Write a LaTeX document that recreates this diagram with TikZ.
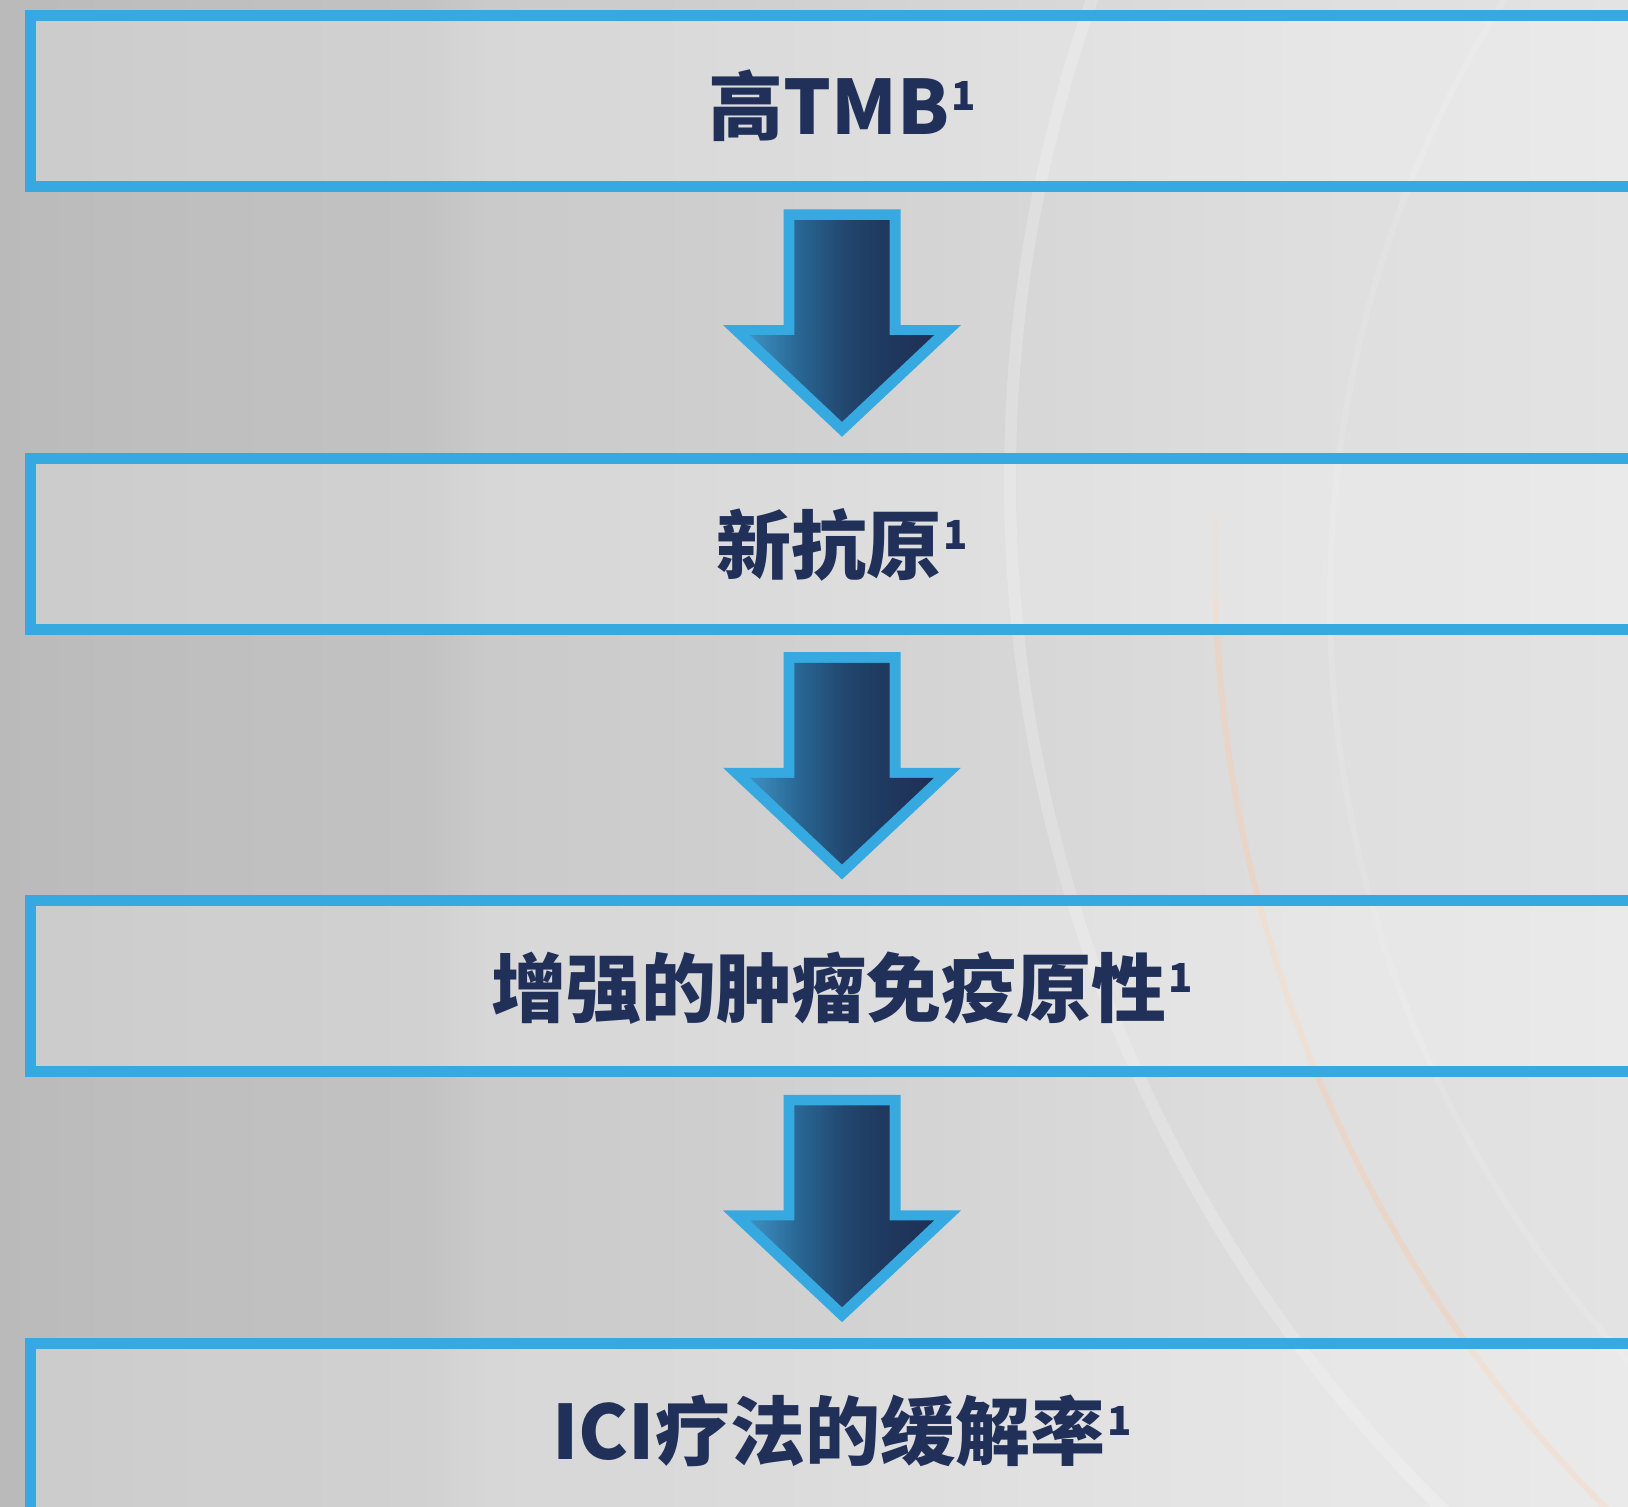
\documentclass[tikz,border=0pt]{standalone}
\usepackage{fontspec}
\setmainfont{Noto Sans CJK SC}
\usetikzlibrary{calc}
\definecolor{frameblue}{RGB}{54,169,224}
\definecolor{navy}{RGB}{32,48,89}
\definecolor{ga}{RGB}{61,144,194}
\definecolor{gb}{RGB}{40,101,146}
\definecolor{gc}{RGB}{34,70,110}
\definecolor{gd}{RGB}{31,58,96}
\definecolor{ge}{RGB}{31,47,85}
\definecolor{bga}{RGB}{186,186,186}
\definecolor{bgb}{RGB}{190,190,190}
\definecolor{bgc}{RGB}{194,194,194}
\definecolor{bgd}{RGB}{202,202,202}
\definecolor{bge}{RGB}{206,206,206}
\definecolor{bgf}{RGB}{214,214,214}
\definecolor{bgg}{RGB}{222,222,222}
\definecolor{bgh}{RGB}{227,227,227}
\definecolor{glow}{RGB}{248,205,175}
\pgfdeclarehorizontalshading{arrowshade}{100bp}{color(0bp)=(ga); color(25bp)=(ga); color(38.7bp)=(gb); color(51bp)=(gc); color(60.5bp)=(gd); color(75bp)=(ge); color(100bp)=(ge)}
\pgfdeclarehorizontalshading{bgshade}{100bp}{color(0bp)=(bga); color(25bp)=(bga); color(29.6bp)=(bgb); color(38bp)=(bgc); color(40bp)=(bgd); color(46.5bp)=(bge); color(55.7bp)=(bgf); color(64.9bp)=(bgg); color(75bp)=(bgh); color(100bp)=(bgh)}
\tikzset{
  stage/.style={draw=frameblue, line width=11pt, fill=white, fill opacity=0.25, text opacity=1,
    minimum width=1623pt, minimum height=171pt, inner sep=0pt, text=navy,
    font=\fontsize{75}{75}\selectfont\bfseries},
  label text/.style={text=navy, inner sep=0pt, font=\fontsize{75}{75}\selectfont\bfseries},
  blockarrow/.pic={
    \fill[frameblue] (-58.5,-113) -- (58.5,-113) -- (58.5,2.7) -- (119,2.7) -- (0,114.4) -- (-119,2.7) -- (-58.5,2.7) -- cycle;
    \shade[shading=arrowshade] (-47.7,-102.3) -- (47.7,-102.3) -- (47.7,12.7) -- (92,12.7) -- (0,99.4) -- (-92,12.7) -- (-47.7,12.7) -- cycle;
  }
}
\newcommand{\refmark}{\hspace{2pt}\raisebox{24pt}[0pt][0pt]{\fontsize{40}{40}\selectfont 1}}
\begin{document}
\begin{tikzpicture}[x=1pt,y=-1pt]
\useasboundingbox (0,0) rectangle (1628,1507);
\clip (0,0) rectangle (1628,1507);
\shade[shading=bgshade] (0,0) rectangle (1628,1507);
% faint background arcs
\draw[white, opacity=0.2, line width=12pt] (2450,480) circle[radius=1440];
\draw[white, opacity=0.12, line width=6pt] (2450,600) circle[radius=1120];
\begin{scope}
  \clip (1100,600) rectangle (1628,1507);
  \draw[glow, opacity=0.45, line width=6pt] (2560,560) circle[radius=1345];
\end{scope}
\begin{scope}
  \clip (1100,520) rectangle (1628,600);
  \draw[glow, opacity=0.2, line width=6pt] (2560,560) circle[radius=1345];
\end{scope}
% boxes
\node[stage] (box1) at (842,101) {};
\node[stage] (box2) at (842,543.7) {};
\node[stage] (box3) at (842,986.4) {};
\node[stage] (box4) at (842,1429.1) {};
\node[label text] (t1) at ([yshift=-5pt]box1.center) {高TMB\refmark};
\node[label text] (t2) at ([yshift=-1pt]box2.center) {新抗原\refmark};
\node[label text] (t3) at ([yshift=-2pt]box3.center) {增强的肿瘤免疫原性\refmark};
\node[label text] (t4) at ([yshift=-2pt]box4.center) {ICI疗法的缓解率\refmark};
% arrows
\coordinate (a1) at ($(box1.south)!0.5!(box2.north)$);
\coordinate (a2) at ($(box2.south)!0.5!(box3.north)$);
\coordinate (a3) at ($(box3.south)!0.5!(box4.north)$);
\pic at (a1) {blockarrow};
\pic at (a2) {blockarrow};
\pic at (a3) {blockarrow};
\end{tikzpicture}
\end{document}
